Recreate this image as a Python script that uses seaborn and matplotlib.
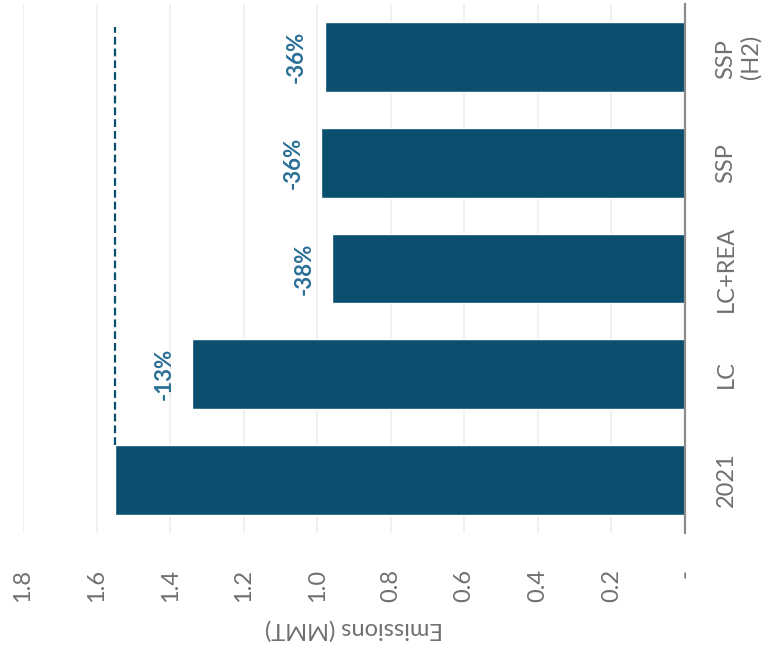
import matplotlib
matplotlib.use("Agg")
import matplotlib.pyplot as plt
import seaborn as sns
import pandas as pd

# values (chart is drawn rotated by 90 degrees)
categories = ["2021", "LC", "LC+REA", "SSP", "SSP\n(H2)"]
emissions = [1.55, 1.34, 0.96, 0.99, 0.98]
change_labels = ["", "-13%", "-38%", "-36%", "-36%"]
tick_values = [0, 0.2, 0.4, 0.6, 0.8, 1.0, 1.2, 1.4, 1.6, 1.8]
tick_labels = ["-", "0.2", "0.4", "0.6", "0.8", "1.0", "1.2", "1.4", "1.6", "1.8"]

bar_color = "#0a4f6e"
label_color = "#2a6f96"
text_grey = "#707070"

df = pd.DataFrame({"scenario": categories, "emissions": emissions})

sns.set_theme(style="white")
plt.rcParams["font.family"] = ["Lato", "DejaVu Sans"]

fig = plt.figure(figsize=(7.8, 6.62), dpi=100)
ax = fig.add_axes([0.0295, 0.195, 0.8485, 0.799])

sns.barplot(data=df, x="emissions", y="scenario", orient="h", color=bar_color,
            saturation=1, width=0.66, ax=ax)

# dashed reference line at the 2021 level
ax.plot([emissions[0], emissions[0]], [0.33, len(categories) - 0.72],
        color=bar_color, lw=1.6, dashes=(3.5, 1.8))

for i, (v, lab) in enumerate(zip(emissions, change_labels)):
    if lab:
        ax.annotate(lab, (v, i), xytext=(-20, 0), textcoords="offset points",
                    rotation=90, ha="center", va="center", fontsize=16,
                    fontweight="bold", color=label_color)

ax.set_xlim(1.8, 0)
ax.set_ylim(-0.5, len(categories) - 0.5)
ax.set_xticks(tick_values)
ax.set_xticklabels(tick_labels)
ax.grid(axis="x", color="#efefef", lw=1.2)
ax.grid(axis="y", visible=False)
ax.set_axisbelow(True)

ax.yaxis.tick_right()
ax.tick_params(axis="y", length=0, pad=22, labelsize=17, labelcolor=text_grey,
               labelrotation=90)
ax.tick_params(axis="x", length=0, pad=26, labelsize=17, labelcolor=text_grey,
               labelrotation=90)
for t in ax.get_yticklabels():
    t.set_va("center")

ax.set_ylabel("")
ax.set_xlabel("Emissions (MMT)", rotation=180, fontsize=17, color=text_grey,
              labelpad=12)

for side in ["top", "left", "bottom"]:
    ax.spines[side].set_visible(False)
ax.spines["right"].set_color("#8a8a8a")
ax.spines["right"].set_linewidth(1.6)

fig.savefig("out.png", dpi=100, facecolor="white")
